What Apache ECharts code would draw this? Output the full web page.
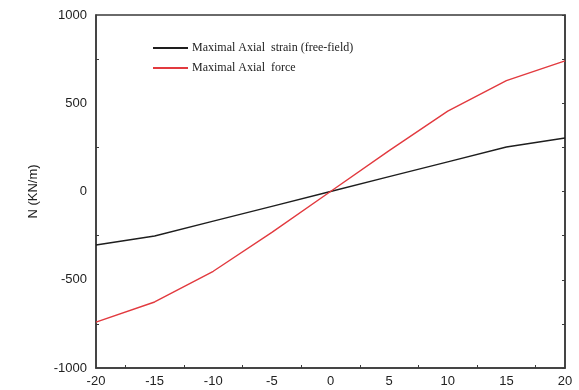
<!DOCTYPE html>
<html>
<head>
<meta charset="utf-8">
<script src="https://cdn.jsdelivr.net/npm/echarts@6/dist/echarts.min.js"></script>
<style>
html,body{margin:0;padding:0;background:#fff;}
#chart{width:579px;height:390px;}
</style>
</head>
<body>
<div id="chart"></div>
<script>
// Angle / displacement positions along the x axis
const xValues = [-20, -15, -10, -5, 0, 5, 10, 15, 20];
// Maximal axial strain (free-field), expressed as N (KN/m)
const strainFreeField = [-303, -252, -168, -84, 0, 84, 168, 252, 303];
// Maximal axial force, N (KN/m)
const axialForce = [-740, -626, -452, -232, 0, 232, 455, 628, 740];

const seriesNames = ['Maximal Axial  strain (free-field)', 'Maximal Axial  force'];

const chart = echarts.init(document.getElementById('chart'), null, {renderer: 'canvas'});

const axisCol = '#3a3a3a';
const labelStyle = {color: '#222', fontFamily: 'Liberation Sans, Arial, sans-serif', fontSize: 13, formatter: v => String(v)};

chart.setOption({
  animation: false,
  backgroundColor: '#fff',
  grid: {left: 96, right: 14, top: 15, bottom: 22, show: true, borderColor: axisCol, borderWidth: 1.5},
  legend: {
    orient: 'vertical',
    left: 148,
    top: 37,
    itemWidth: 35,
    itemHeight: 2,
    itemGap: 8,
    icon: 'rect',
    textStyle: {fontFamily: 'Liberation Serif, Times New Roman, serif', fontSize: 12, color: '#222', padding: [0, 0, 0, -1]},
    data: seriesNames
  },
  xAxis: {
    type: 'value',
    min: -20, max: 20, interval: 5,
    axisLine: {show: true, onZero: false, lineStyle: {color: axisCol, width: 1.5}},
    axisTick: {show: false, inside: true},
    minorTick: {show: true, splitNumber: 2, length: 3, lineStyle: {color: axisCol, width: 1}},
    splitLine: {show: false},
    axisLabel: Object.assign({margin: 7}, labelStyle)
  },
  yAxis: [{
    type: 'value',
    min: -1000, max: 1000, interval: 500,
    name: 'N (KN/m)',
    nameLocation: 'middle',
    nameGap: 56,
    nameRotate: 90,
    nameTextStyle: {fontFamily: 'Liberation Sans, Arial, sans-serif', fontSize: 13, color: '#222'},
    axisLine: {show: true, onZero: false, lineStyle: {color: axisCol, width: 1.5}},
    axisTick: {show: false, inside: true},
    minorTick: {show: true, splitNumber: 2, length: 3, lineStyle: {color: axisCol, width: 1}},
    splitLine: {show: false},
    axisLabel: Object.assign({margin: 9}, labelStyle)
  }, {
    type: 'value',
    position: 'right',
    min: -1000, max: 1000, interval: 250,
    axisLine: {show: true, onZero: false, lineStyle: {color: axisCol, width: 1.5}},
    axisTick: {show: true, inside: true, length: 3, lineStyle: {color: axisCol, width: 1}},
    axisLabel: {show: false},
    splitLine: {show: false}
  }],
  series: [{
    name: seriesNames[0],
    type: 'line',
    symbol: 'none',
    color: '#1e1e1e',
    lineStyle: {width: 1.4, color: '#1e1e1e'},
    data: xValues.map((x, i) => [x, strainFreeField[i]])
  }, {
    name: seriesNames[1],
    type: 'line',
    symbol: 'none',
    color: '#e23a3f',
    lineStyle: {width: 1.4, color: '#e23a3f'},
    data: xValues.map((x, i) => [x, axialForce[i]])
  }]
});
</script>
</body>
</html>
